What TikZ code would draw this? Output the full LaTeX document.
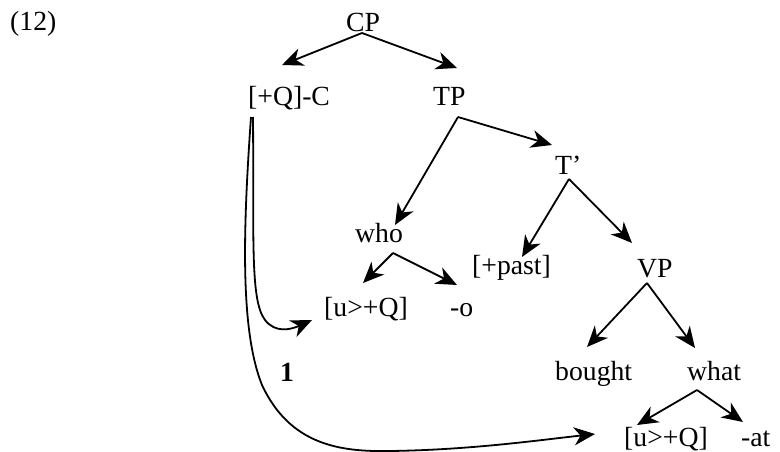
\documentclass[tikz,border=0pt]{standalone}
\usepackage{fontspec}
\setmainfont{Liberation Serif}
\usetikzlibrary{arrows.meta,calc}
\begin{document}
\begin{tikzpicture}[x=1pt,y=-1pt,
  lbl/.style={anchor=base west,inner sep=0pt,font=\fontsize{27.7}{30}\selectfont},
  arr/.style={line width=1.8pt,-{Stealth[length=21pt,width=18pt,inset=6.5pt]}}]
\useasboundingbox (0,0) rectangle (780,452);
\node[lbl] (L12) at (10,31) {(12)};
\node[lbl] (CP) at (346,32) {CP};
\node[lbl] (QC) at (248,106) {[+Q]-C};
\node[lbl] (TP) at (433,106) {TP};
\node[lbl] (Tb) at (555,175) {T’};
\node[lbl] (who) at (355,242) {who};
\node[lbl] (past) at (472,274) {[+past]};
\node[lbl] (VP) at (637,277) {VP};
\node[lbl] (u1) at (324,316) {[u>+Q]};
\node[lbl] (o) at (450,316) {-o};
\node[lbl] (bought) at (555,380) {bought};
\node[lbl] (what) at (687,380) {what};
\node[lbl,font=\fontsize{27.7}{30}\selectfont\bfseries] (one) at (280,381) {1};
\node[lbl] (u2) at (624,446) {[u>+Q]};
\node[lbl] (at) at (741,446) {-at};
% CP
\draw[arr] ($(CP.base west)+(16,1)$) -- ($(QC.base west)+(34,-41)$);
\draw[arr] ($(CP.base west)+(16,1)$) -- ($(TP.base west)+(24,-38)$);
% TP
\draw[arr] ($(TP.base west)+(25,11)$) -- ($(who.base west)+(40,-17)$);
\draw[arr] ($(TP.base west)+(25,11)$) -- ($(Tb.base west)+(-3,-30)$);
% T'
\draw[arr] ($(Tb.base west)+(14,4)$) -- ($(past.base west)+(50,-17)$);
\draw[arr] ($(Tb.base west)+(14,4)$) -- ($(VP.base west)+(-5,-34)$);
% who
\draw[arr] ($(who.base west)+(38,11)$) -- ($(u1.base west)+(39,-33)$);
\draw[arr] ($(who.base west)+(38,11)$) -- ($(o.base west)+(7,-31)$);
% VP
\draw[arr] ($(VP.base west)+(10,6)$) -- ($(bought.base west)+(32,-33)$);
\draw[arr] ($(VP.base west)+(10,6)$) -- ($(what.base west)+(8,-32)$);
% what
\draw[arr] ($(what.base west)+(10,10)$) -- ($(u2.base west)+(13,-21)$);
\draw[arr] ($(what.base west)+(10,10)$) -- ($(at.base west)+(2,-24)$);
% curves
\draw[arr] ($(QC.base west)+(5,11)$) .. controls (254,240) and (250,300) .. (265,320)
  .. controls (275,333) and (290,330) .. ($(u1.base west)+(-12,4)$);
\draw[arr] ($(QC.base west)+(3,11)$) .. controls (243,230) and (240,330) .. (262,385)
  .. controls (290,445) and (340,452) .. (390,451)
  .. controls (470,450) and (540,440) .. ($(u2.base west)+(-29,-12)$);
\end{tikzpicture}
\end{document}
